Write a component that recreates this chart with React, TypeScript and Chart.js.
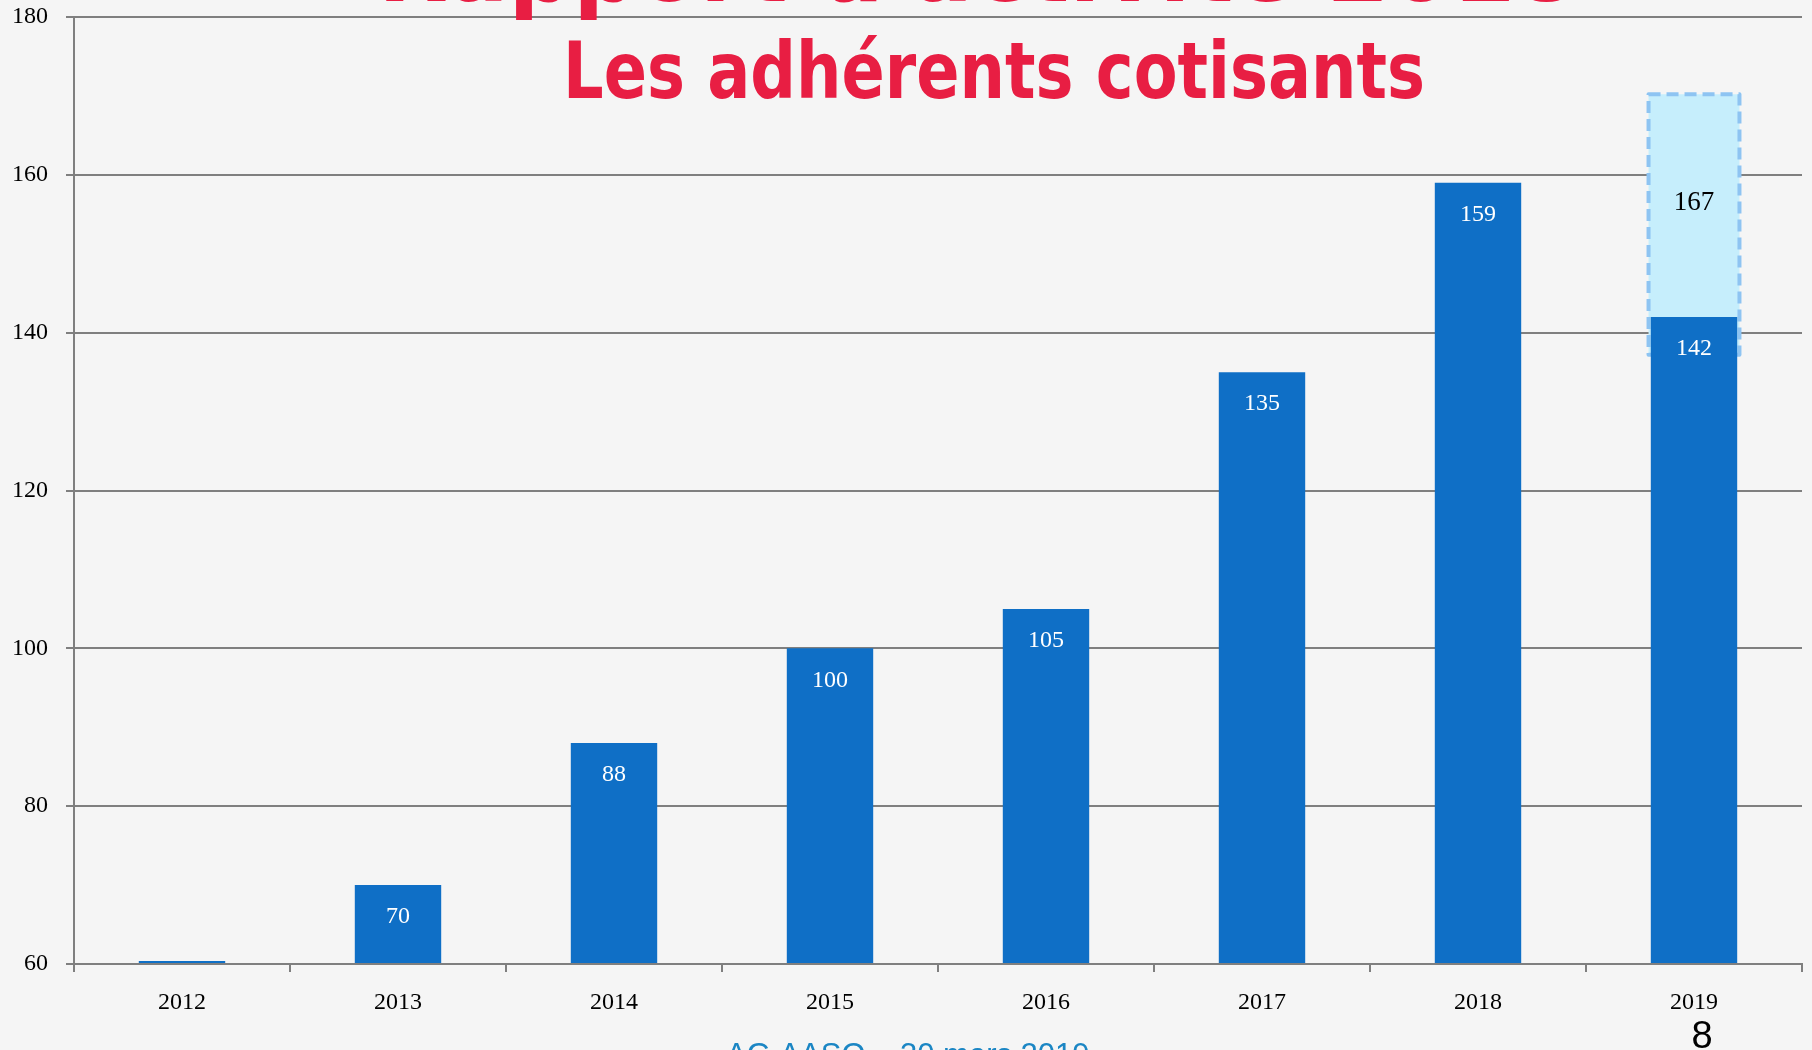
import React, { useEffect, useRef } from "react";
import { Chart, registerables } from "chart.js";

Chart.register(...registerables);

// ---- data ----
const categories = ["2012", "2013", "2014", "2015", "2016", "2017", "2018", "2019"];
const adherents = [60, 70, 88, 100, 105, 135, 159, 142];
const projectionRange: (number[] | null)[] = [null, null, null, null, null, null, null, [137.2, 170.2]];
const projectionLabel = "167";
const yTicks = [60, 80, 100, 120, 140, 160, 180];
const titleText = "Les adhérents cotisants";
const cutTitleText = "Rapport d'activité 2018";
const footerText = "AG AASQ – 30 mars 2019";
const pageNumber = "8";

const W = 1812;
const H = 1050;

export default function App() {
  const ref = useRef<HTMLCanvasElement | null>(null);

  useEffect(() => {
    const canvas = ref.current;
    if (!canvas) return;

    const yMin = yTicks[0];
    const yMax = yTicks[yTicks.length - 1];

    const backgroundPlugin = {
      id: "bg",
      beforeDraw(chart: any) {
        const ctx = chart.ctx;
        ctx.save();
        ctx.fillStyle = "#f5f5f5";
        ctx.fillRect(0, 0, chart.width, chart.height);
        ctx.restore();
      },
    };

    const dashedBoxPlugin = {
      id: "dashedBox",
      afterDatasetDraw(chart: any, args: any) {
        if (args.index !== 1) return;
        const ctx = chart.ctx;
        const meta = chart.getDatasetMeta(1);
        meta.data.forEach((el: any, i: number) => {
          if (!projectionRange[i]) return;
          const left = el.x - el.width / 2;
          const top = Math.min(el.y, el.base);
          const h = Math.abs(el.base - el.y);
          ctx.save();
          ctx.strokeStyle = "#8ec4f2";
          ctx.lineWidth = 4;
          ctx.setLineDash([12, 6]);
          ctx.lineJoin = "round";
          ctx.strokeRect(left, top, el.width, h);
          ctx.restore();
        });
      },
    };

    const labelsPlugin = {
      id: "valueLabels",
      afterDatasetsDraw(chart: any) {
        const ctx = chart.ctx;
        ctx.save();
        ctx.textAlign = "center";
        ctx.textBaseline = "middle";
        const meta0 = chart.getDatasetMeta(0);
        ctx.fillStyle = "#ffffff";
        ctx.font = "24px 'Liberation Serif'";
        meta0.data.forEach((el: any, i: number) => {
          const v = adherents[i];
          if (v <= yMin) return;
          ctx.fillText(String(v), el.x, el.y + 32);
        });
        const meta1 = chart.getDatasetMeta(1);
        ctx.fillStyle = "#000000";
        ctx.font = "27px 'Liberation Serif'";
        meta1.data.forEach((el: any, i: number) => {
          if (!projectionRange[i]) return;
          const top = Math.min(el.y, el.base);
          const h = Math.abs(el.base - el.y);
          ctx.fillText(projectionLabel, el.x, top + h * 0.418);
        });
        ctx.restore();
      },
    };

    const textPlugin = {
      id: "slideText",
      afterDraw(chart: any) {
        const ctx = chart.ctx;
        ctx.save();
        ctx.fillStyle = "#e81e43";
        ctx.textAlign = "center";
        ctx.textBaseline = "alphabetic";
        // cut-off upper title line
        ctx.font = "bold 90px 'DejaVu Sans'";
        let w = ctx.measureText(cutTitleText).width;
        ctx.save();
        ctx.translate(978, 1);
        ctx.scale(1200 / w, 1);
        ctx.fillText(cutTitleText, 0, 0);
        ctx.restore();
        // main title
        ctx.font = "bold 78px 'DejaVu Sans'";
        w = ctx.measureText(titleText).width;
        ctx.save();
        ctx.translate(994, 98);
        ctx.scale(862 / w, 1);
        ctx.fillText(titleText, 0, 0);
        ctx.restore();
        // footer
        ctx.textAlign = "left";
        ctx.fillStyle = "#1b86c4";
        ctx.font = "31px 'Liberation Sans'";
        ctx.fillText(footerText, 726, 1065);
        // page number
        ctx.textAlign = "center";
        ctx.fillStyle = "#000000";
        ctx.font = "38px 'Liberation Sans'";
        ctx.fillText(pageNumber, 1702, 1048);
        ctx.restore();
      },
    };

    const chart = new Chart(canvas, {
      type: "bar",
      data: {
        labels: categories,
        datasets: [
          {
            label: "Adhérents cotisants",
            data: adherents,
            backgroundColor: "#0f6fc6",
            borderWidth: 0,
            barPercentage: 0.4,
            categoryPercentage: 1,
            grouped: false,
            base: yMin,
            minBarLength: 3,
            order: 0,
          },
          {
            label: "Projection",
            data: projectionRange as any,
            backgroundColor: "#c6eefc",
            borderWidth: 0,
            barPercentage: 0.421,
            categoryPercentage: 1,
            grouped: false,
            order: 1,
          },
        ],
      },
      options: {
        responsive: false,
        animation: false,
        devicePixelRatio: 1,
        layout: { padding: { top: 17, right: 10, left: 0, bottom: 0 } },
        plugins: {
          legend: { display: false },
          tooltip: { enabled: false },
          title: { display: false },
        },
        scales: {
          x: {
            afterFit: (s: any) => {
              s.height = 86;
            },
            grid: {
              offset: true,
              drawOnChartArea: false,
              drawTicks: true,
              tickLength: 8,
              color: "#7f7f7f",
              lineWidth: 2,
            },
            border: { display: true, color: "#7f7f7f", width: 2 },
            ticks: {
              color: "#000000",
              font: { family: "'Liberation Serif'", size: 24 },
              padding: 16,
              maxRotation: 0,
            },
          },
          y: {
            min: yMin,
            max: yMax,
            afterFit: (s: any) => {
              s.width = 74;
              s.paddingTop = 0;
              s.paddingBottom = 0;
            },
            grid: {
              color: "#7f7f7f",
              lineWidth: 2,
              tickLength: 8,
              drawTicks: true,
            },
            border: { display: true, color: "#7f7f7f", width: 2 },
            ticks: {
              stepSize: yTicks[1] - yTicks[0],
              color: "#000000",
              font: { family: "'Liberation Serif'", size: 24 },
              padding: 18,
            },
          },
        },
      },
      plugins: [backgroundPlugin, dashedBoxPlugin, labelsPlugin, textPlugin],
    });

    return () => {
      chart.destroy();
    };
  }, []);

  return (
    <div style={{ position: "fixed", left: 0, top: 0, width: W, height: H, overflow: "hidden" }}>
      <canvas ref={ref} width={W} height={H} style={{ display: "block", width: W, height: H }} />
    </div>
  );
}
